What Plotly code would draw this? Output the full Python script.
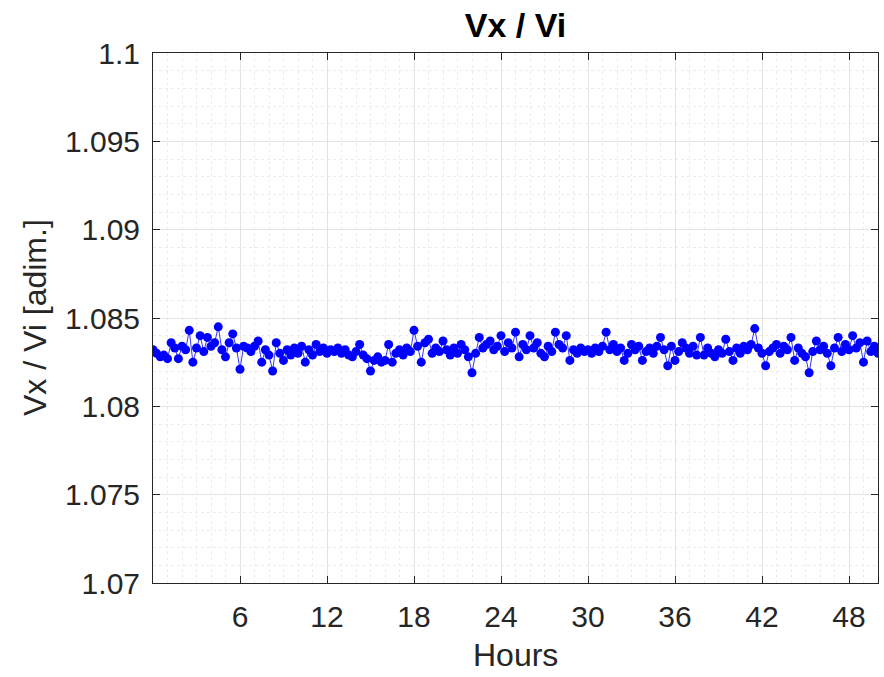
import plotly.graph_objects as go

# Ratio Vx/Vi sampled every 15 minutes (4 values per hour), hours 0..50
ratio = [
    1.0832, 1.0830, 1.0828, 1.0829,
    1.0827, 1.0836, 1.0833, 1.0827,
    1.0834, 1.0832, 1.0843, 1.0825,
    1.0833, 1.0840, 1.0831, 1.0839,
    1.0834, 1.0836, 1.0845, 1.0832,
    1.0828, 1.0836, 1.0841, 1.0833,
    1.0821, 1.0834, 1.0833, 1.0831,
    1.0834, 1.0837, 1.0825, 1.0832,
    1.0829, 1.0820, 1.0836, 1.0830,
    1.0826, 1.0832, 1.0829, 1.0833,
    1.0830, 1.0834, 1.0825, 1.0832,
    1.0829, 1.0835, 1.0831, 1.0833,
    1.0830, 1.0832, 1.0831, 1.0833,
    1.0830, 1.0832, 1.0829, 1.0828,
    1.0831, 1.0835, 1.0829, 1.0827,
    1.0820, 1.0826, 1.0828, 1.0825,
    1.0826, 1.0835, 1.0825, 1.0830,
    1.0832, 1.0829, 1.0833, 1.0831,
    1.0843, 1.0834, 1.0825, 1.0836,
    1.0838, 1.0830, 1.0833, 1.0831,
    1.0837, 1.0832, 1.0829, 1.0833,
    1.0830, 1.0835, 1.0832, 1.0828,
    1.0819, 1.0830, 1.0839, 1.0833,
    1.0835, 1.0837, 1.0832, 1.0834,
    1.0840, 1.0831, 1.0836, 1.0833,
    1.0842, 1.0828, 1.0835, 1.0832,
    1.0840, 1.0833, 1.0836, 1.0830,
    1.0828, 1.0834, 1.0831, 1.0842,
    1.0835, 1.0833, 1.0840, 1.0826,
    1.0832, 1.0830, 1.0833, 1.0831,
    1.0832, 1.0830, 1.0833, 1.0831,
    1.0834, 1.0842, 1.0832, 1.0835,
    1.0831, 1.0833, 1.0826, 1.0830,
    1.0835, 1.0832, 1.0834, 1.0826,
    1.0831, 1.0833, 1.0830, 1.0834,
    1.0839, 1.0832, 1.0823, 1.0834,
    1.0826, 1.0831, 1.0836, 1.0833,
    1.0830, 1.0834, 1.0829, 1.0839,
    1.0829, 1.0833, 1.0830, 1.0828,
    1.0832, 1.0830, 1.0838, 1.0831,
    1.0826, 1.0833, 1.0830, 1.0834,
    1.0832, 1.0835, 1.0844, 1.0833,
    1.0830, 1.0823, 1.0831, 1.0833,
    1.0835, 1.0830, 1.0834, 1.0832,
    1.0839, 1.0826, 1.0833, 1.0830,
    1.0828, 1.0819, 1.0831, 1.0837,
    1.0832, 1.0834, 1.0830, 1.0823,
    1.0833, 1.0839, 1.0831, 1.0835,
    1.0832, 1.0840, 1.0833, 1.0836,
    1.0825, 1.0837, 1.0831, 1.0834,
    1.0830,
]
sample_step_hours = 0.25
hours = [i * sample_step_hours for i in range(len(ratio))]

x_ticks = [6, 12, 18, 24, 30, 36, 42, 48]
x_tick_labels = ["6", "12", "18", "24", "30", "36", "42", "48"]
y_ticks = [1.07, 1.075, 1.08, 1.085, 1.09, 1.095, 1.1]
y_tick_labels = ["1.07", "1.075", "1.08", "1.085", "1.09", "1.095", "1.1"]

title_text = "Vx / Vi"
x_label = "Hours"
y_label = "Vx / Vi [adim.]"

FONT = "Liberation Sans, Arial, Helvetica, sans-serif"
TXT = "#262626"

fig = go.Figure()
fig.add_trace(go.Scatter(
    x=hours, y=ratio, mode="lines+markers",
    line=dict(color="#0000ff", width=0.8),
    marker=dict(color="#0000ff", size=9, line=dict(width=0)),
    showlegend=False,
))

fig.update_layout(
    width=884, height=677,
    margin=dict(l=153, r=6, t=53, b=94),
    paper_bgcolor="white", plot_bgcolor="white",
    font=dict(family=FONT, color=TXT),
    title=dict(text="<b>" + title_text + "</b>", x=(153 + 878) / 2 / 884, xanchor="center",
               y=1 - 25 / 677, yanchor="middle", yref="container",
               font=dict(size=34, color="#000000", family=FONT)),
    xaxis=dict(
        range=[0, 50], tickvals=x_ticks, ticktext=x_tick_labels,
        ticks="inside", ticklen=7, tickcolor="#262626", tickwidth=1,
        showline=True, linecolor="#262626", linewidth=1, mirror="ticks",
        showgrid=True, gridcolor="#e3e3e3", gridwidth=1,
        minor=dict(dtick=1, tick0=0, showgrid=True, gridcolor="#ececec", griddash="dot", ticks=""),
        tickfont=dict(size=30, color=TXT), ticklabelstandoff=7,
        zeroline=False,
    ),
    yaxis=dict(
        range=[1.07, 1.1], tickvals=y_ticks, ticktext=y_tick_labels,
        ticks="inside", ticklen=7, tickcolor="#262626", tickwidth=1,
        showline=True, linecolor="#262626", linewidth=1, mirror="ticks",
        showgrid=True, gridcolor="#e3e3e3", gridwidth=1,
        minor=dict(dtick=0.001, tick0=1.07, showgrid=True, gridcolor="#ececec", griddash="dot", ticks=""),
        tickfont=dict(size=30, color=TXT), ticklabelstandoff=6,
        zeroline=False,
    ),
    annotations=[
        dict(text=x_label, xref="paper", yref="paper", x=0.5, y=-(655 - 583) / 530,
             xanchor="center", yanchor="middle", showarrow=False,
             font=dict(size=32, color=TXT, family=FONT)),
        dict(text=y_label, xref="paper", yref="paper", x=-(153 - 35) / 725, y=0.5,
             xanchor="center", yanchor="middle", showarrow=False, textangle=-90,
             font=dict(size=32, color=TXT, family=FONT)),
    ],
)

fig.write_html("out.html")
